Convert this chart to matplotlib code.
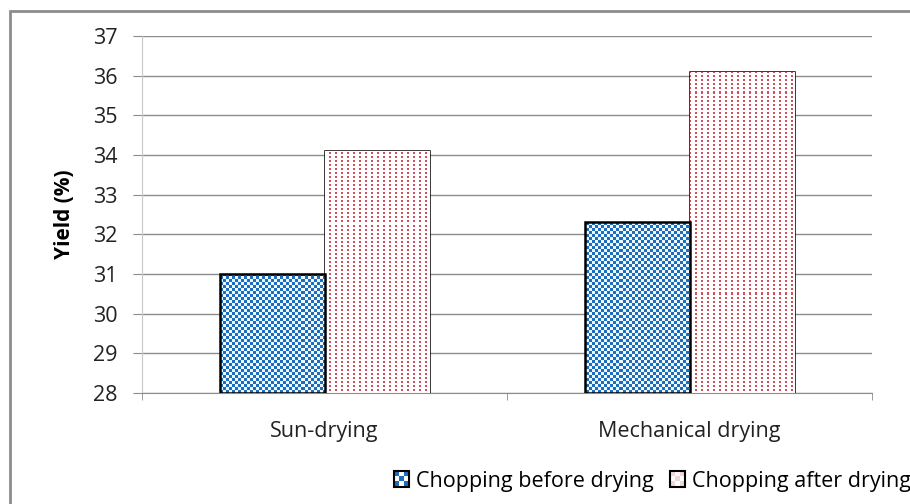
import numpy as np
import matplotlib
matplotlib.use("Agg")
import matplotlib.pyplot as plt
from matplotlib.patches import Rectangle
from matplotlib.legend_handler import HandlerBase

categories = ["Sun-drying", "Mechanical drying"]
before_drying = [31.0, 32.3]
after_drying = [34.1, 36.1]
series_names = ["Chopping before drying", "Chopping after drying"]
yticks = [28, 29, 30, 31, 32, 33, 34, 35, 36, 37]

blue = "#1c6dbf"
dot_red = "#d0505c"
grid_gray = "#8c8c8c"

plt.rcParams['font.family'] = ['Open Sans', 'DejaVu Sans']

fig = plt.figure(figsize=(9.1, 5.04), dpi=100)
ax = fig.add_axes([142/910, 1-393/504, 730/910, 357/504])

x = np.arange(len(categories))
w = 0.285
ylo, yhi = yticks[0], yticks[-1]
xlo, xhi = -0.5, len(categories) - 0.5

ax.set_ylim(ylo, yhi)
ax.set_xlim(xlo, xhi)
ax.set_yticks(yticks)
ax.yaxis.grid(True, color=grid_gray, lw=1)
ax.set_axisbelow(True)

bars_b = ax.bar(x - w/2, [v - ylo for v in before_drying], w, bottom=ylo,
                facecolor="none", edgecolor="black", lw=1.8, zorder=3)
bars_a = ax.bar(x + w/2, [v - ylo for v in after_drying], w, bottom=ylo,
                facecolor="white", edgecolor="black", lw=1.8, zorder=1.5)

# checkerboard texture (3 px cells) clipped into the "before" bars
nr, nc = 357 // 3, 730 // 3
rr, cc = np.mgrid[0:nr, 0:nc]
checker = np.where(((rr + cc) % 2)[..., None] == 0,
                   np.array(matplotlib.colors.to_rgb(blue)),
                   np.array([0.93, 0.98, 1.0]))
for b in bars_b:
    im = ax.imshow(checker, extent=(xlo, xhi, ylo, yhi), aspect="auto",
                   interpolation="nearest", zorder=2)
    im.set_clip_path(b)

# sparse red dot texture (2 px cells) for the "after" bars
nr2, nc2 = 357 // 2, 730 // 2
dots = np.ones((nr2, nc2, 4))
dr = matplotlib.colors.to_rgba(dot_red)
r2, c2 = np.mgrid[0:nr2, 0:nc2]
mask = (r2 % 2 == 0) & (c2 % 3 == 0)
dots[mask] = dr
for b in bars_a:
    im = ax.imshow(dots, extent=(xlo, xhi, ylo, yhi), aspect="auto",
                   interpolation="nearest", zorder=2)
    im.set_clip_path(b)

ax.set_ylim(ylo, yhi)
ax.set_xlim(xlo, xhi)

ax.set_xticks(x)
ax.set_xticklabels(categories, fontsize=15.5, color="#222222")
ax.tick_params(axis="x", length=0, pad=20)
ax.set_xticks([xlo, 0.5, xhi], minor=True)
ax.tick_params(axis="x", which="minor", length=5, color=grid_gray)
ax.tick_params(axis="y", length=6.5, color=grid_gray, labelsize=15.5,
               labelcolor="#222222", pad=11)

for s in ["top", "right"]:
    ax.spines[s].set_visible(False)
ax.spines["left"].set_color("#c8c8c8")
ax.spines["bottom"].set_color(grid_gray)

ax.set_ylabel("Yield (%)", fontsize=15, fontweight="bold", labelpad=13)


class CheckerHandler(HandlerBase):
    def __init__(self, face, n):
        super().__init__()
        self.face = face
        self.n = n

    def create_artists(self, legend, orig_handle, xdescent, ydescent,
                       width, height, fontsize, trans):
        s = min(width, height)
        x0, y0 = -xdescent, -ydescent + (height - s) / 2
        arts = [Rectangle((x0, y0), s, s, facecolor="white", edgecolor="none",
                          transform=trans)]
        c = s / self.n
        for i in range(self.n):
            for j in range(self.n):
                if (i + j) % 2 == 0:
                    arts.append(Rectangle((x0 + i*c, y0 + j*c), c, c,
                                          facecolor=self.face, edgecolor="none",
                                          transform=trans))
        arts.append(Rectangle((x0, y0), s, s, facecolor="none",
                              edgecolor="black", lw=1.5, transform=trans))
        return arts


h1, h2 = object(), object()
fig.legend([h1, h2], series_names, loc="center left",
           bbox_to_anchor=(394/910, 1-481/504), ncol=2, frameon=False,
           fontsize=15.5, handlelength=0.7, handleheight=0.7,
           handletextpad=0.33, columnspacing=0.75,
           borderpad=0, borderaxespad=0,
           handler_map={h1: CheckerHandler(blue, 3),
                        h2: CheckerHandler("#f3d6d8", 3)})

fig.patches.append(Rectangle((10/910, -0.05), 1.0, 1 - 11/504 + 0.05,
                             transform=fig.transFigure, facecolor="none",
                             edgecolor="#8c8c8c", lw=2))

fig.savefig("out.png", dpi=100)
